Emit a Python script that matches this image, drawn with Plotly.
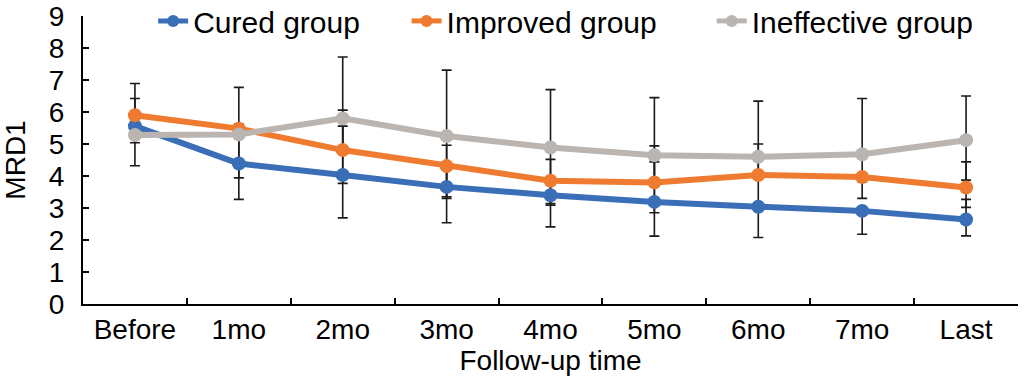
import plotly.graph_objects as go

categories = ["Before", "1mo", "2mo", "3mo", "4mo", "5mo", "6mo", "7mo", "Last"]

cured = [5.56, 4.39, 4.03, 3.66, 3.40, 3.19, 3.04, 2.91, 2.64]
improved = [5.90, 5.48, 4.81, 4.31, 3.85, 3.80, 4.03, 3.97, 3.64]
ineffective = [5.28, 5.30, 5.80, 5.25, 4.89, 4.65, 4.60, 4.68, 5.12]

cured_err_plus = [0.00, 1.23, 1.53, 1.30, 1.12, 1.25, 0.00, 0.00, 0.63]
cured_err_minus = [0.00, 1.12, 1.34, 1.12, 0.99, 1.07, 0.96, 0.73, 0.51]
improved_err_plus = [0.99, 0.00, 1.25, 0.00, 0.00, 1.14, 0.97, 0.00, 0.80]
improved_err_minus = [0.86, 0.00, 0.00, 0.96, 0.71, 0.00, 0.00, 0.15, 0.62]
ineffective_err_plus = [1.14, 1.47, 1.92, 2.06, 1.81, 1.80, 1.74, 1.74, 1.38]
ineffective_err_minus = [0.96, 1.36, 2.03, 1.95, 1.80, 1.80, 1.67, 1.38, 1.25]

series = [
    ("Cured group", cured, cured_err_plus, cured_err_minus, "#3A6FB7"),
    ("Improved group", improved, improved_err_plus, improved_err_minus, "#EE7B30"),
    ("Ineffective group", ineffective, ineffective_err_plus, ineffective_err_minus, "#BAB5B0"),
]
# extra legend spacing after each entry (non-breaking spaces)
legend_pad = [5, 6, 0]

FONT = "Liberation Sans, Arial, sans-serif"

fig = go.Figure()

# error bars underneath
for name, vals, ep, em, color in series:
    fig.add_trace(go.Scatter(
        x=categories, y=vals, mode="markers",
        marker=dict(opacity=0, size=1),
        error_y=dict(type="data", symmetric=False, array=ep, arrayminus=em,
                     color="#1a1a1a", thickness=1.6, width=5),
        showlegend=False, hoverinfo="skip",
    ))

for (name, vals, ep, em, color), pad in zip(series, legend_pad):
    fig.add_trace(go.Scatter(
        x=categories, y=vals, mode="lines+markers", name=name + "\u00a0" * pad,
        line=dict(color=color, width=6),
        marker=dict(color=color, size=14),
    ))

fig.update_layout(
    width=1028, height=385,
    margin=dict(l=83, r=10, t=16, b=81, autoexpand=False),
    paper_bgcolor="white", plot_bgcolor="white",
    font=dict(family=FONT, size=27, color="black"),
    showlegend=True,
    legend=dict(orientation="h", x=0.075, y=0.983, xanchor="left", yanchor="middle",
                bgcolor="rgba(0,0,0,0)", font=dict(size=30),
                itemsizing="constant", tracegroupgap=0),
    xaxis=dict(
        type="category", range=[-0.5, 8.5],
        showline=True, linecolor="black", linewidth=2,
        ticks="inside", ticklen=6, tickwidth=2, tickcolor="black",
        tickson="boundaries", showgrid=False, zeroline=False,
        tickfont=dict(size=28), ticklabelstandoff=-1,
        title=dict(text="Follow-up time", font=dict(size=28), standoff=2),
    ),
    yaxis=dict(
        range=[0, 9], dtick=1,
        showline=True, linecolor="black", linewidth=2,
        ticks="inside", ticklen=6, tickwidth=2, tickcolor="black",
        showgrid=False, zeroline=False, ticklabeloverflow="allow",
        tickfont=dict(size=28), ticklabelstandoff=11,
        title=dict(text="MRD1", font=dict(size=28), standoff=15),
    ),
)

# remove the page's default body margin so the figure fills the window exactly
fig.write_html("out.html", config={"displayModeBar": False},
               post_script="document.body.style.margin='0';")
